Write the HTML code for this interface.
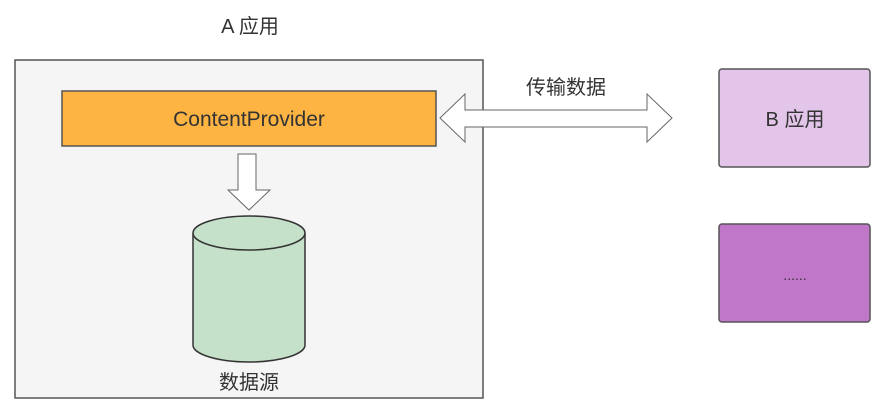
<!DOCTYPE html>
<html><head><meta charset="utf-8"><style>
html,body{margin:0;padding:0;background:#fff;}
svg{display:block;}
text{font-family:"Liberation Sans","Noto Sans CJK SC",sans-serif;fill:#333;}
</style></head><body>
<svg width="885" height="414" viewBox="0 0 885 414" xmlns="http://www.w3.org/2000/svg">
<text x="250" y="33" font-size="20" text-anchor="middle">A 应用</text>
<rect x="15" y="60" width="468" height="338" fill="#f5f5f5" stroke="#555" stroke-width="1.5"/>
<rect x="62" y="91" width="374" height="55" fill="#fdb443" stroke="#555" stroke-width="1.5"/>
<text x="249" y="126" font-size="21" text-anchor="middle">ContentProvider</text>
<path d="M238,154 H256 V190 H270 L249,210 L228,190 H238 Z" fill="#fff" stroke="#666" stroke-width="1"/>
<path d="M193,233 V345 A56,17 0 0 0 305,345 V233" fill="#c6e1c9" stroke="#333" stroke-width="1.5"/>
<ellipse cx="249" cy="233" rx="56" ry="17" fill="#c6e1c9" stroke="#333" stroke-width="1.5"/>
<text x="249" y="389" font-size="20" text-anchor="middle">数据源</text>
<path d="M440,118 L465,94 V110 H647 V94 L672,118 L647,142 V127 H465 V142 Z" fill="#fff" stroke="#666" stroke-width="1"/>
<text x="566" y="94" font-size="20" text-anchor="middle">传输数据</text>
<rect x="719" y="69" width="151" height="98" rx="3" fill="#e2c5e8" stroke="#555" stroke-width="1.5"/>
<text x="795" y="126" font-size="20" text-anchor="middle">B 应用</text>
<rect x="719" y="224" width="151" height="98" rx="3" fill="#c076c9" stroke="#555" stroke-width="1.5"/>
<text x="795" y="280" font-size="14" text-anchor="middle">......</text>
</svg>
</body></html>
